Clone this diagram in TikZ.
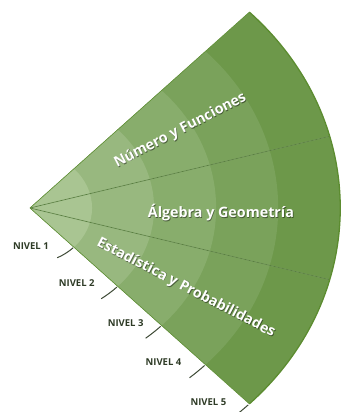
\documentclass[tikz,border=0pt]{standalone}
\usepackage{fontspec}
\setmainfont{Open Sans}
\usetikzlibrary{calc}
\definecolor{ringA}{HTML}{A9C592}
\definecolor{ringB}{HTML}{98B87F}
\definecolor{ringC}{HTML}{88AD6C}
\definecolor{ringD}{HTML}{7AA25B}
\definecolor{ringE}{HTML}{6D984A}
\definecolor{rim}{HTML}{5C8C30}
\definecolor{divline}{HTML}{5A8041}
\definecolor{labelcol}{HTML}{2E3B26}
\definecolor{tickcol}{HTML}{3E4A36}
\tikzset{
  ringfill/.style={fill=#1, draw=none},
  title/.style={font=\bfseries\fontsize{14.3}{14.3}\selectfont, text=white, inner sep=0pt},
  titleshadow/.style={font=\bfseries\fontsize{14.3}{14.3}\selectfont, text=black, opacity=0.45, inner sep=0pt},
  nivel/.style={font=\bfseries\fontsize{9.5}{9.5}\selectfont, text=labelcol, inner sep=0pt},
  tickline/.style={draw=tickcol, line width=1pt},
}
\begin{document}
\begin{tikzpicture}[x=1pt,y=1pt]
\useasboundingbox (0,0) rectangle (343,412);
\begin{scope}[shift={(30,204)}, xscale=1.12]
  \coordinate (apex) at (0,0);
  \foreach \r/\c in {277/ringE, 221.6/ringD, 166.2/ringC, 110.8/ringB, 55.4/ringA}{
    \fill[ringfill=\c] (apex) -- (45:\r) arc[start angle=45, end angle=-45, radius=\r] -- cycle;
  }
  % dividers
  \coordinate (du) at (15:277);
  \coordinate (dl) at (-15:277);
  \draw[white, opacity=0.3, line width=0.6pt, yshift=-0.8pt] (apex) -- (du);
  \draw[white, opacity=0.3, line width=0.6pt, yshift=-0.8pt] (apex) -- (dl);
  \draw[divline, line width=0.7pt] (apex) -- (du);
  \draw[divline, line width=0.7pt] (apex) -- (dl);
  % outer rim
  \draw[rim, line width=1.3pt] (45:277) arc[start angle=45, end angle=-45, radius=277];
  \draw[rim!70!ringE, line width=0.6pt] (apex) -- (45:277);
  \draw[rim!70!ringE, line width=0.6pt] (apex) -- (-45:277);
  % tick coordinates
  \coordinate (t1) at (-45:55.4);
  \coordinate (t2) at (-45:110.8);
  \coordinate (t3) at (-45:166.2);
  \coordinate (t4) at (-45:221.6);
  \coordinate (t5) at (-45:277);
  \draw[tickline] (-46:55.4) arc[start angle=-46, end angle=-64, radius=55.4];
  \draw[tickline] (-45.5:110.8) arc[start angle=-45.5, end angle=-55, radius=110.8];
  \draw[tickline] (-45.4:166.2) arc[start angle=-45.4, end angle=-51.6, radius=166.2];
  \draw[tickline] (-45.3:221.6) arc[start angle=-45.3, end angle=-50, radius=221.6];
  \draw[tickline] (-45.3:277) arc[start angle=-45.3, end angle=-49, radius=277];
  % title positions
  \coordinate (pnf) at (30:155);
  \coordinate (pag) at (170.5,-10);
  \coordinate (pep) at (139.3,-80);
\end{scope}
% titles with shadows
\node[titleshadow, rotate=27.3] (snf) at ($(pnf)+(0.7,-0.8)$) {Número y Funciones};
\node[title, rotate=27.3] (nf) at (pnf) {Número y Funciones};
\node[titleshadow, anchor=base] (sag) at ($(pag)+(0.7,-0.8)$) {Álgebra y Geometría};
\node[title, anchor=base] (ag) at (pag) {Álgebra y Geometría};
\node[titleshadow, rotate=-27.5] (sep) at ($(pep)+(0.7,-0.8)$) {Estadística y Probabilidades};
\node[title, rotate=-27.5] (ep) at (pep) {Estadística y Probabilidades};
% level labels
\node[nivel] (n1) at ($(t1)+(-43,1)$) {NIVEL 1};
\node[nivel] (n2) at ($(t2)+(-41,3)$) {NIVEL 2};
\node[nivel] (n3) at ($(t3)+(-36,2)$) {NIVEL 3};
\node[nivel] (n4) at ($(t4)+(-42,3)$) {NIVEL 4};
\node[nivel] (n5) at ($(t5)+(-41,2)$) {NIVEL 5};
\end{tikzpicture}
\end{document}
